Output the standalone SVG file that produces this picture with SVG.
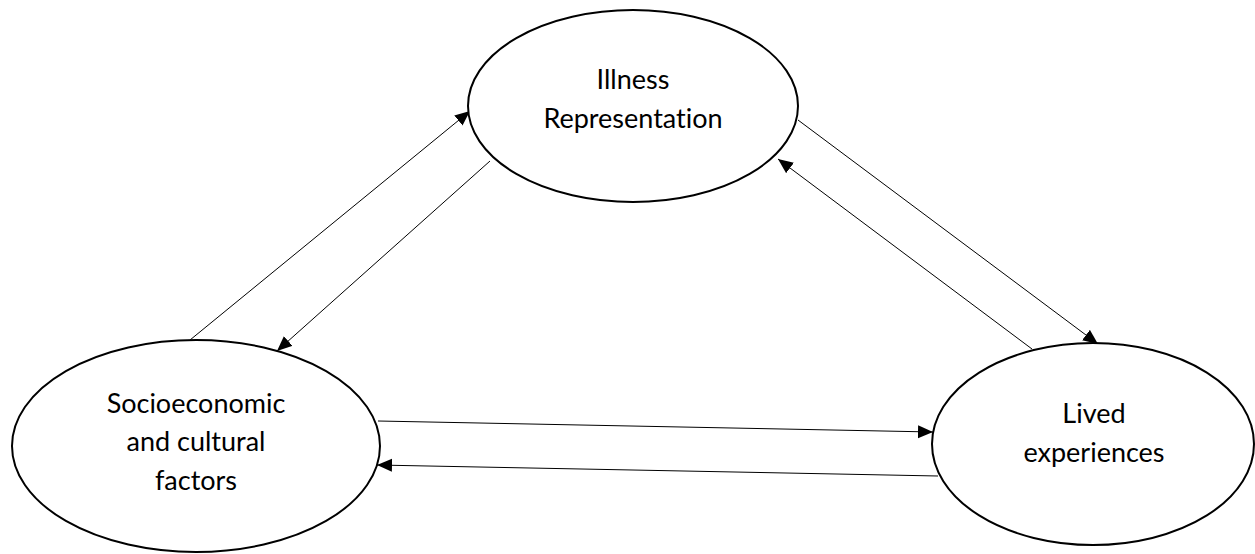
<svg xmlns="http://www.w3.org/2000/svg" width="1255" height="554" viewBox="0 0 1255 554">
<style>
.node ellipse{fill:#fff;stroke:#000;stroke-width:2}
.node text{font-family:Lato,"Liberation Sans",sans-serif;font-size:27px;fill:#000;text-anchor:middle;font-variant-ligatures:none}
.conn line{stroke:#000;stroke-width:1}
</style>
<defs>
<marker id="ah" markerUnits="userSpaceOnUse" markerWidth="16" markerHeight="14" refX="15" refY="6.5" orient="auto">
<path d="M0,0 L15,6.5 L0,13 z" fill="#000"/>
</marker>
</defs>
<rect width="1255" height="554" fill="#fff"/>
<g id="connectors" class="conn">
<line x1="190" y1="340" x2="470" y2="111" marker-end="url(#ah)"/>
<line x1="490" y1="161" x2="277" y2="351" marker-end="url(#ah)"/>
<line x1="798" y1="120" x2="1098" y2="344" marker-end="url(#ah)"/>
<line x1="1032" y1="349" x2="778" y2="159" marker-end="url(#ah)"/>
<line x1="378" y1="421" x2="933" y2="432" marker-end="url(#ah)"/>
<line x1="938" y1="476" x2="377" y2="465" marker-end="url(#ah)"/>
</g>
<g id="illness" class="node">
<ellipse cx="633" cy="106" rx="165" ry="96"/>
<text x="633" y="89">Illness</text>
<text x="633" y="128">Representation</text>
</g>
<g id="socio" class="node">
<ellipse cx="196" cy="446" rx="184" ry="106"/>
<text x="196" y="413">Socioeconomic</text>
<text x="196" y="451">and cultural</text>
<text x="196" y="490">factors</text>
</g>
<g id="lived" class="node">
<ellipse cx="1093" cy="444" rx="161" ry="101"/>
<text x="1094" y="423">Lived</text>
<text x="1094" y="462">experiences</text>
</g>
</svg>
